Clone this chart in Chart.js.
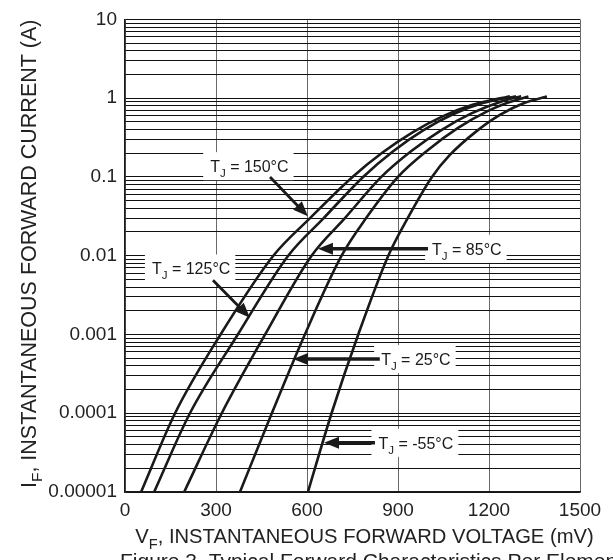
<!DOCTYPE html>
<html>
<head>
<meta charset="utf-8">
<script src="https://cdn.jsdelivr.net/npm/chart.js@4.4.1/dist/chart.umd.min.js"></script>
<style>
  html, body { margin: 0; padding: 0; background: #fff; }
  #wrap { width: 613px; height: 560px; }
</style>
</head>
<body>
<div id="wrap"><canvas id="grafica"></canvas></div>
<script>
// VF (mV) vs IF (A)
const vf150 = [53, 165, 315, 489, 610, 750, 849, 948, 1047, 1146, 1269]
const if150 = [1e-5, 1e-4, 1e-3, 1e-2, 0.03, 0.1, 0.204, 0.368, 0.587, 0.824, 1.06]
const vf125 = [96, 214, 372, 538, 655, 785, 884, 983, 1081, 1180, 1289]
const if125 = [1e-5, 1e-4, 1e-3, 1e-2, 0.03, 0.1, 0.212, 0.39, 0.624, 0.866, 1.06]
const vf85 = [195, 319, 462, 615, 725, 845, 944, 1043, 1142, 1241, 1306]
const if85 = [1e-5, 1e-4, 1e-3, 1e-2, 0.03, 0.1, 0.213, 0.394, 0.64, 0.907, 1.06]
const vf25 = [379, 484, 593, 714, 795, 900, 999, 1098, 1197, 1263, 1330]
const if25 = [1e-5, 1e-4, 1e-3, 1e-2, 0.03, 0.1, 0.22, 0.419, 0.688, 0.881, 1.05]
const vfm55 = [603, 681, 769, 868, 932, 1012, 1071, 1154, 1236, 1318, 1391]
const ifm55 = [1e-5, 1e-4, 1e-3, 1e-2, 0.03, 0.1, 0.19, 0.368, 0.613, 0.873, 1.05]

const xTicks = [0, 300, 600, 900, 1200, 1500]
const yDecades = [0.00001, 0.0001, 0.001, 0.01, 0.1, 1, 10]
const yTickLabels = ['0.00001', '0.0001', '0.001', '0.01', '0.1', '1', '10']

// T_J callouts: label centre, arrow tail, arrow tip (mV, A)
const callouts = [
  { temp: '150°C', at: [410, 0.137], from: [478, 0.1], to: [603, 0.0316] },
  { temp: '125°C', at: [218, 0.00688], from: [290, 0.00487], to: [412, 0.00163] },
  { temp: '85°C', at: [1127, 0.01224], from: [999, 0.01224], to: [636, 0.01224] },
  { temp: '25°C', at: [959, 0.000487], from: [840, 0.000487], to: [554, 0.000487] },
  { temp: '-55°C', at: [959, 0.0000422], from: [824, 0.0000422], to: [656, 0.0000422] }
]

const FONT = "'Liberation Sans', Arial, Helvetica, sans-serif"
const INK = '#1a1a1a'

const series = [[vf150, if150], [vf125, if125], [vf85, if85], [vf25, if25], [vfm55, ifm55]]

// every 1..9 x 10^n line for the log grid
const yGrid = []
for (let p = -5; p <= 0; p++) {
  for (let k = 1; k <= 9; k++) yGrid.push(+(k * Math.pow(10, p)).toPrecision(3))
}
yGrid.push(10)

// text with subscript parts: [['T'], ['J', true], [' = 25°C']]
function partsWidth(ctx, parts, size) {
  let w = 0
  parts.forEach(([t, sub]) => {
    ctx.font = (sub ? size * 0.72 : size) + 'px ' + FONT
    w += ctx.measureText(t).width
  })
  return w
}

function drawParts(ctx, parts, x, y, size) {
  let cx = x
  parts.forEach(([t, sub]) => {
    ctx.font = (sub ? size * 0.72 : size) + 'px ' + FONT
    ctx.fillText(t, cx, sub ? y + size * 0.3 : y)
    cx += ctx.measureText(t).width
  })
}

function arrow(ctx, x1, y1, x2, y2, w) {
  const ang = Math.atan2(y2 - y1, x2 - x1)
  const head = 15
  const half = 6
  ctx.strokeStyle = INK
  ctx.fillStyle = INK
  ctx.lineWidth = w
  ctx.beginPath()
  ctx.moveTo(x1, y1)
  ctx.lineTo(x2 - Math.cos(ang) * head * 0.8, y2 - Math.sin(ang) * head * 0.8)
  ctx.stroke()
  ctx.beginPath()
  ctx.moveTo(x2, y2)
  ctx.lineTo(x2 - head * Math.cos(ang) + half * Math.sin(ang), y2 - head * Math.sin(ang) - half * Math.cos(ang))
  ctx.lineTo(x2 - head * Math.cos(ang) - half * Math.sin(ang), y2 - head * Math.sin(ang) + half * Math.cos(ang))
  ctx.closePath()
  ctx.fill()
}

const textos = {
  id: 'textos',
  afterDatasetsDraw(chart) {
    const { ctx, scales: { x, y } } = chart
    ctx.save()
    ctx.textBaseline = 'alphabetic'
    ctx.textAlign = 'left'
    callouts.forEach((c) => {
      const parts = [['T'], ['J', true], [' = ' + c.temp]]
      const size = 16
      const w = partsWidth(ctx, parts, size)
      const cx = x.getPixelForValue(c.at[0])
      const cy = y.getPixelForValue(c.at[1])
      ctx.fillStyle = '#fff'
      ctx.fillRect(cx - w / 2 - 7, cy - 14, w + 12, 28)
      ctx.fillStyle = INK
      drawParts(ctx, parts, cx - w / 2, cy + 6, size)
      const horiz = c.from[1] === c.to[1]
      arrow(ctx, x.getPixelForValue(c.from[0]), y.getPixelForValue(c.from[1]),
        x.getPixelForValue(c.to[0]), y.getPixelForValue(c.to[1]), horiz ? 3.5 : 2.8)
    })
    ctx.restore()
  },
  afterDraw(chart) {
    const { ctx, chartArea } = chart
    ctx.save()
    ctx.fillStyle = '#222'
    ctx.textBaseline = 'alphabetic'
    ctx.textAlign = 'left'
    // x title
    const xParts = [['V'], ['F', true], [', INSTANTANEOUS FORWARD VOLTAGE (mV)']]
    const xw = partsWidth(ctx, xParts, 20.2)
    drawParts(ctx, xParts, (chartArea.left + chartArea.right) / 2 + 12 - xw / 2, 543, 20.2)
    // y title
    const yParts = [['I'], ['F', true], [', INSTANTANEOUS FORWARD CURRENT (A)']]
    ctx.translate(36, 488)
    ctx.rotate(-Math.PI / 2)
    drawParts(ctx, yParts, 0, 0, 21.5)
    ctx.restore()
    // caption (cut off at the bottom edge)
    ctx.save()
    ctx.fillStyle = '#222'
    ctx.font = '21px ' + FONT
    ctx.fillText('Figure 3. Typical Forward Characteristics Per Element', 120, 568)
    ctx.restore()
  }
}

new Chart(document.getElementById('grafica'), {
  type: 'line',
  data: {
    datasets: series.map(([vf, ifw]) => ({
      data: vf.map((v, i) => ({ x: v, y: ifw[i] })),
      borderColor: INK,
      borderWidth: 2.6,
      pointRadius: 0,
      fill: false,
      cubicInterpolationMode: 'monotone'
    }))
  },
  options: {
    responsive: true,
    maintainAspectRatio: false,
    devicePixelRatio: 1,
    animation: false,
    events: [],
    layout: { padding: { left: 0, top: 12, right: 33, bottom: 0 } },
    plugins: { legend: { display: false }, tooltip: { enabled: false } },
    scales: {
      x: {
        type: 'linear',
        min: xTicks[0],
        max: xTicks[xTicks.length - 1],
        afterBuildTicks: (s) => { s.ticks = xTicks.map(v => ({ value: v })) },
        afterFit: (s) => { s.height = 68 },
        grid: { color: '#6a6a6a', lineWidth: 1, drawTicks: false },
        border: { color: INK, width: 1.5 },
        ticks: {
          autoSkip: false,
          maxRotation: 0,
          padding: 7,
          color: '#222',
          font: { family: FONT, size: 19 },
          callback: (v) => String(v)
        }
      },
      y: {
        type: 'logarithmic',
        min: yDecades[0],
        max: yDecades[yDecades.length - 1],
        afterBuildTicks: (s) => { s.ticks = yGrid.map(v => ({ value: v })) },
        afterFit: (s) => { s.width = 125 },
        grid: { color: '#111', lineWidth: 1, drawTicks: false },
        border: { color: INK, width: 1.5 },
        ticks: {
          autoSkip: false,
          padding: 8,
          color: '#222',
          font: { family: FONT, size: 19 },
          callback: (v) => {
            const i = yDecades.findIndex(d => Math.abs(d - v) / d < 1e-6)
            return i >= 0 ? yTickLabels[i] : ''
          }
        }
      }
    }
  },
  plugins: [textos]
})
</script>
</body>
</html>
